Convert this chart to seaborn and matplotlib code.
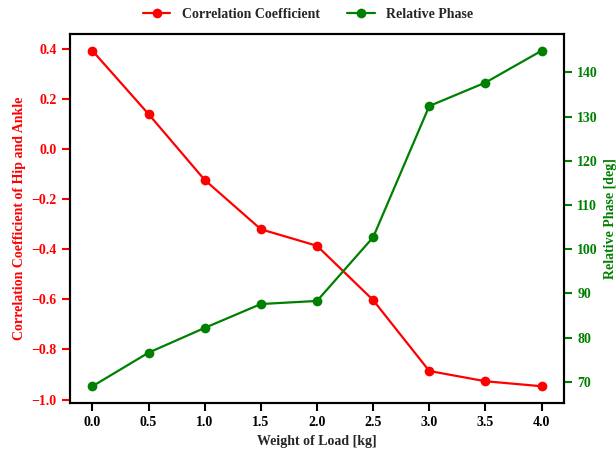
import matplotlib
matplotlib.use("Agg")
import matplotlib.pyplot as plt
import seaborn as sns
import pandas as pd

# Load weights and the measured hip/ankle coordination metrics
load_kg = [0.0, 0.5, 1.0, 1.5, 2.0, 2.5, 3.0, 3.5, 4.0]
correlation = [0.393, 0.14, -0.123, -0.32, -0.386, -0.603, -0.886, -0.927, -0.947]
relative_phase = [69.0, 76.6, 82.2, 87.6, 88.3, 102.7, 132.4, 137.7, 144.9]

df = pd.DataFrame({"load": load_kg, "corr": correlation, "phase": relative_phase})

sns.set_theme(style="ticks")
plt.rcParams["font.family"] = ["Liberation Serif", "DejaVu Serif"]
plt.rcParams["font.weight"] = "bold"
plt.rcParams["axes.labelweight"] = "bold"

fig = plt.figure(figsize=(6.16, 4.49), dpi=100)
ax = fig.add_axes([0.1136, 0.1024, 0.8020, 0.8219])
ax2 = ax.twinx()

sns.lineplot(data=df, x="load", y="corr", ax=ax, color="red", marker="o",
             markersize=7, markeredgewidth=0, linewidth=1.6,
             label="Correlation Coefficient", legend=False)
sns.lineplot(data=df, x="load", y="phase", ax=ax2, color="green", marker="o",
             markersize=7, markeredgewidth=0, linewidth=1.6,
             label="Relative Phase", legend=False)

ax.set_xticks(load_kg)
ax.set_xticklabels([f"{v:.1f}" for v in load_kg])
ax.set_xlabel("Weight of Load [kg]", fontsize=10, fontweight="bold")
ax.set_ylabel("Correlation Coefficient of Hip and Ankle", fontsize=10,
              fontweight="bold", color="red")
ax2.set_ylabel("Relative Phase [deg]", fontsize=10, fontweight="bold",
               color="green")

ax.set_yticks([0.4, 0.2, 0.0, -0.2, -0.4, -0.6, -0.8, -1.0])
ax2.set_yticks([70, 80, 90, 100, 110, 120, 130, 140])

ax.tick_params(axis="x", colors="black", labelsize=10, length=6, width=1.5)
ax.tick_params(axis="y", colors="red", labelsize=10, length=6, width=1.5)
ax2.tick_params(axis="y", colors="green", labelsize=10, length=6, width=1.5)
for a in (ax, ax2):
    for lab in a.get_xticklabels() + a.get_yticklabels():
        lab.set_fontweight("bold")
    for sp in a.spines.values():
        sp.set_visible(True)
        sp.set_color("black")
        sp.set_linewidth(1.5)

h1, l1 = ax.get_legend_handles_labels()
h2, l2 = ax2.get_legend_handles_labels()
fig.legend(h1 + h2, l1 + l2, loc="upper center", ncol=2, frameon=False,
           bbox_to_anchor=(0.5, 1.01), prop={"weight": "bold", "size": 10},
           columnspacing=2.0)

fig.savefig("out.png", dpi=100)
